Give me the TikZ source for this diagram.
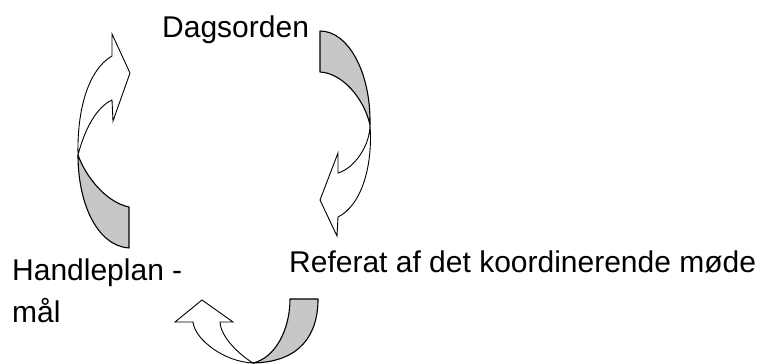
\documentclass[tikz,border=0pt]{standalone}
\usepackage{fontspec}
\setmainfont{Liberation Sans}
\begin{document}
\begin{tikzpicture}[x=1pt,y=-1pt,
  label/.style={inner sep=0pt, font=\fontsize{30}{42}\selectfont},
  backside/.style={draw=black, line width=1.1pt, fill=black!22, line join=round},
  frontside/.style={draw=black, line width=0.9pt, fill=white, line join=miter}]
\useasboundingbox (0,0) rectangle (764,364);

% labels of the three steps (base of a two-line node is its last line)
\node[label, anchor=base west] (dag) at (162,37) {Dagsorden};
\node[label, anchor=base west] (ref) at (289,272) {Referat af det koordinerende møde};
\node[label, anchor=base west, align=left] (hp) at (12,322) {Handleplan -\\mål};

% curved arrow: Dagsorden -> Referat
\coordinate (rA) at (320,31);
\coordinate (rB) at (320,72);
\coordinate (rX) at (370,125);
\draw[backside] (rA) .. controls (348,31) and (371,72) .. (rX)
   .. controls (364,98) and (342,73) .. (rB) -- cycle;
\draw[frontside] (rX) .. controls (373,165) and (362,205) .. (338,217)
   -- (337,236) -- (320,200) -- (338,153) -- (338,173)
   .. controls (355,168) and (370,145) .. (rX) -- cycle;

% curved arrow: Handleplan -> Dagsorden
\coordinate (lA) at (129,248);
\coordinate (lB) at (129,207);
\coordinate (lX) at (78,155);
\draw[backside] (lA) .. controls (98,246) and (78,205) .. (lX)
   .. controls (85,175) and (105,202) .. (lB) -- cycle;
\draw[frontside] (lX) .. controls (77,110) and (88,70) .. (112,56)
   -- (112,34) -- (130,73) -- (113,121) -- (112,100)
   .. controls (97,107) and (85,128) .. (lX) -- cycle;

% curved arrow: Referat -> Handleplan
\coordinate (bA) at (318,299);
\coordinate (bB) at (290,299);
\coordinate (bX) at (253,363);
\draw[backside] (bA) .. controls (318,335) and (300,362) .. (bX)
   .. controls (275,358) and (290,330) .. (bB) -- cycle;
\draw[frontside] (bX) .. controls (225,362) and (195,340) .. (193,322)
   -- (175,322) -- (202,300) -- (233,322) -- (220,322)
   .. controls (221,338) and (240,355) .. (bX) -- cycle;
\end{tikzpicture}
\end{document}
